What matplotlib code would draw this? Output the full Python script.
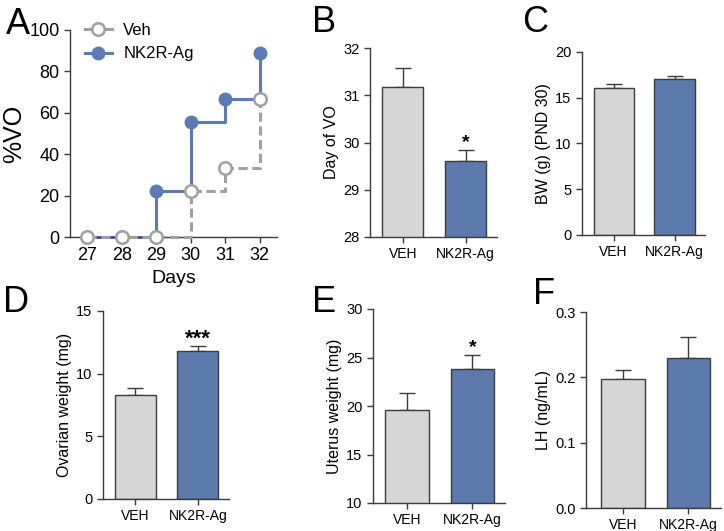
import matplotlib.pyplot as plt
import numpy as np
from matplotlib.lines import Line2D

plt.rcParams['font.family'] = ['Liberation Sans', 'DejaVu Sans']

# panel A data
days = [27, 28, 29, 30, 31, 32]
vo_veh = [0, 0, 0, 22.2, 33.3, 66.7]
vo_nk = [0, 0, 22.2, 55.6, 66.7, 88.9]

groups = ['VEH', 'NK2R-Ag']

# bar panels: means and sem
day_vo = [31.17, 29.6]
day_vo_err = [0.4, 0.25]
bw = [16.1, 17.1]
bw_err = [0.4, 0.25]
ovary = [8.3, 11.8]
ovary_err = [0.55, 0.4]
uterus = [19.6, 23.8]
uterus_err = [1.7, 1.5]
lh = [0.198, 0.230]
lh_err = [0.013, 0.032]

grey_col = '#d6d6d6'
blue_col = '#5b79aa'
line_blue = '#5b7bb5'
line_grey = '#a0a0a0'
edge = '#3c3c3c'

W, H = 724, 531
fig = plt.figure(figsize=(W / 100, H / 100), dpi=100)


def add_ax(x0, x1, ytop, ybot):
    return fig.add_axes([x0 / W, 1 - ybot / H, (x1 - x0) / W, (ybot - ytop) / H])


def style(ax, fs):
    for s in ['top', 'right']:
        ax.spines[s].set_visible(False)
    for s in ['left', 'bottom']:
        ax.spines[s].set_color(edge)
        ax.spines[s].set_linewidth(1.0)
    ax.tick_params(colors=edge, labelcolor='black', labelsize=fs, width=1.0, length=4)


def bar_panel(ax, vals, errs, ylim, yticks, ylabel, xlim=(-0.52, 1.5), stars=None, star_y=None):
    x = np.arange(len(groups))
    ax.bar(x, vals, width=0.66, color=[grey_col, blue_col], edgecolor=edge, linewidth=1.0, zorder=2)
    ax.errorbar(x, vals, yerr=[[0, 0], errs], fmt='none', ecolor=edge, elinewidth=1.0,
                capsize=6, capthick=1.0, zorder=1)
    ax.set_ylim(*ylim)
    ax.set_yticks(yticks)
    ax.set_xlim(*xlim)
    ax.set_xticks(x)
    ax.set_xticklabels(groups)
    ax.set_ylabel(ylabel, fontsize=11.5, labelpad=3)
    style(ax, 10.5)
    ax.tick_params(axis='x', length=4, labelsize=10)
    if stars:
        ax.text(1, star_y, stars, ha='center', va='center', fontsize=16 if len(stars) > 1 else 14,
                fontweight='bold')


# A
axA = add_ax(70, 277, 30, 237)
axA.plot(days, vo_nk, drawstyle='steps-post', color=line_blue, lw=2.2, zorder=2)
axA.plot(days, vo_veh, drawstyle='steps-post', color=line_grey, lw=2.2, ls=(0, (3, 1.5)), zorder=3)
axA.plot(days, vo_nk, 'o', color=line_blue, ms=9, zorder=4, label='NK2R-Ag')
axA.plot(days, vo_veh, 'o', mfc='white', mec=line_grey, mew=1.8, ms=9, zorder=5, label='Veh')
axA.set_xlim(26.5, 32.5)
axA.set_ylim(0, 100)
axA.set_yticks([0, 20, 40, 60, 80, 100])
axA.set_xticks(days)
axA.set_xlabel('Days', fontsize=14, labelpad=4)
axA.set_ylabel('%VO', fontsize=18, labelpad=2)
style(axA, 13)
for ln in axA.lines:
    ln.set_clip_on(False)

h_veh = Line2D([], [], color=line_grey, lw=2.2, marker='o', mfc='white', mec=line_grey, mew=1.8, ms=9)
h_nk = Line2D([], [], color=line_blue, lw=2.2, marker='o', ms=9)
fig.legend([h_veh, h_nk], ['Veh', 'NK2R-Ag'], loc='upper left', bbox_to_anchor=(70 / W, 1 - 8 / H),
           frameon=False, fontsize=12, handlelength=1.6, labelspacing=0.5, handletextpad=0.7)

# B
axB = add_ax(370, 497, 48, 237)
bar_panel(axB, day_vo, day_vo_err, (28, 32), [28, 29, 30, 31, 32], 'Day of VO', stars='*', star_y=30.0)

# C
axC = add_ax(582, 705, 52, 235)
bar_panel(axC, bw, bw_err, (0, 20), [0, 5, 10, 15, 20], 'BW (g) (PND 30)')

# D
axD = add_ax(103, 229, 311, 499)
bar_panel(axD, ovary, ovary_err, (0, 15), [0, 5, 10, 15], 'Ovarian weight (mg)', stars='***', star_y=12.75)

# E
axE = add_ax(373, 505, 309, 503)
bar_panel(axE, uterus, uterus_err, (10, 30), [10, 15, 20, 25, 30], 'Uterus weight (mg)', stars='*', star_y=26.0)

# F
axF = add_ax(586, 721, 312, 508)
bar_panel(axF, lh, lh_err, (0, 0.3), [0.0, 0.1, 0.2, 0.3], 'LH (ng/mL)', xlim=(-0.565, 1.5))
axF.yaxis.set_major_formatter(plt.FormatStrFormatter('%.1f'))

# panel letters
for lab, px, py in [('A', 6, 24), ('B', 312, 22), ('C', 522, 22),
                    ('D', 3, 302), ('E', 312, 302), ('F', 533, 294)]:
    fig.text(px / W, 1 - py / H, lab, fontsize=26, ha='left', va='center')

fig.savefig('out.png', dpi=100)
